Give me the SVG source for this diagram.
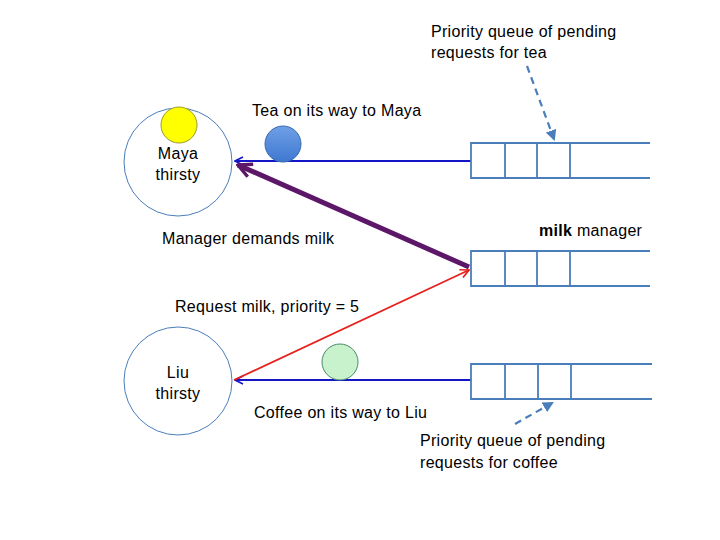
<svg xmlns="http://www.w3.org/2000/svg" width="720" height="540" viewBox="0 0 720 540">
<defs>
<style>
text{font-family:"Liberation Sans",Arial,sans-serif;font-size:16px;letter-spacing:0.3px;fill:#000}
.c{text-anchor:middle}
.node{fill:#fff;stroke:#4a7ebb;stroke-width:1}
.q{fill:none;stroke:#4a7ebb;stroke-width:1.8}
.blue{stroke:#1515c8;stroke-width:2;fill:none}
.red{stroke:#e8201c;stroke-width:1.8;fill:none}
.purple{stroke:#5c1768;stroke-width:5;fill:none}
.dash{stroke:#4a7ebb;stroke-width:2.2;stroke-dasharray:7,5;fill:none}
</style>
<linearGradient id="bg" x1="0" y1="0" x2="0" y2="1"><stop offset="0" stop-color="#6fa0e6"/><stop offset="1" stop-color="#3f78d0"/></linearGradient>
<marker id="ab" viewBox="0 0 10 10" refX="9" refY="5" markerWidth="5" markerHeight="5" orient="auto"><path d="M1,1 L9,5 L1,9" fill="none" stroke="#1515c8" stroke-width="1.6"/></marker>
<marker id="ar" viewBox="0 0 10 10" refX="9" refY="5" markerWidth="6" markerHeight="6" orient="auto"><path d="M1,1 L9,5 L1,9" fill="none" stroke="#e8201c" stroke-width="1.6"/></marker>
<marker id="ap" viewBox="0 0 10 10" refX="9" refY="5" markerWidth="3.4" markerHeight="3.4" orient="auto"><path d="M1,1 L9,5 L1,9" fill="none" stroke="#5c1768" stroke-width="2"/></marker>
<marker id="ad" viewBox="0 0 10 10" refX="8" refY="5" markerWidth="5" markerHeight="5" orient="auto"><path d="M0,0 L10,5 L0,10 Z" fill="#4a7ebb"/></marker>
</defs>

<g id="connectors">
<line class="blue" x1="471" y1="161" x2="235" y2="161" marker-end="url(#ab)"/>
<line class="blue" x1="471" y1="380" x2="235" y2="380" marker-end="url(#ab)"/>
<line class="red" x1="234" y1="380" x2="469" y2="270" marker-end="url(#ar)"/>
<line class="purple" x1="469" y1="267" x2="238" y2="165" marker-end="url(#ap)"/>
<line class="dash" x1="527" y1="66" x2="554" y2="139" marker-end="url(#ad)"/>
<line class="dash" x1="515" y1="424" x2="552" y2="403" marker-end="url(#ad)"/>
</g>

<g id="maya">
<circle class="node" cx="178" cy="162" r="54"/>
<circle cx="179" cy="125" r="18" fill="#ffff00" stroke="#9a9a30" stroke-width="1"/>
<text class="c" x="178" y="159">Maya</text>
<text class="c" x="178" y="180">thirsty</text>
</g>

<g id="liu">
<circle class="node" cx="178" cy="381" r="54"/>
<text class="c" x="178" y="378">Liu</text>
<text class="c" x="178" y="399">thirsty</text>
</g>

<g id="tea-ball"><circle cx="283" cy="144" r="18" fill="url(#bg)" stroke="#3a6cb0" stroke-width="1"/></g>
<g id="coffee-ball"><circle cx="340" cy="362" r="18" fill="#c8f2cc" stroke="#4a8a6a" stroke-width="1"/></g>

<g id="tea-queue">
<path class="q" d="M650,143 H471 V178 H650 M505,143 V178 M537,143 V178 M570,143 V178"/>
</g>
<g id="milk-queue">
<path class="q" d="M650,251 H471 V286 H650 M505,251 V286 M537,251 V286 M570,251 V286"/>
</g>
<g id="coffee-queue">
<path class="q" d="M652,364 H471 V399 H652 M505,364 V399 M538,364 V399 M571,364 V399"/>
</g>

<g id="labels">
<text x="431" y="37">Priority queue of pending</text>
<text x="431" y="58">requests for tea</text>
<text x="252" y="116">Tea on its way to Maya</text>
<text x="539" y="236"><tspan font-weight="bold">milk</tspan> manager</text>
<text x="162" y="244">Manager demands milk</text>
<text x="175" y="312">Request milk, priority = 5</text>
<text x="254" y="418">Coffee on its way to Liu</text>
<text x="420" y="446">Priority queue of pending</text>
<text x="420" y="468">requests for coffee</text>
</g>
</svg>
